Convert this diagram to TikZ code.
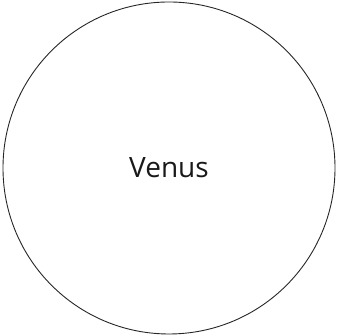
\documentclass[tikz,border=0pt]{standalone}
\usepackage{fontspec}
\setmainfont{Open Sans}
\usetikzlibrary{positioning}
\tikzset{
	planet/.style={circle, draw=black!85, line width=0.9pt, minimum size=332pt, inner sep=0pt},
	planetname/.style={font=\fontsize{28}{32}\selectfont, text=black!90},
}
\begin{document}
\begin{tikzpicture}[x=1pt, y=1pt]
	\useasboundingbox (0,0) rectangle (338,336);
	\node[planet] (venus) at (169,168) {};
	\node[planetname] (vlabel) at (venus.center) {Venus};
\end{tikzpicture}
\end{document}
